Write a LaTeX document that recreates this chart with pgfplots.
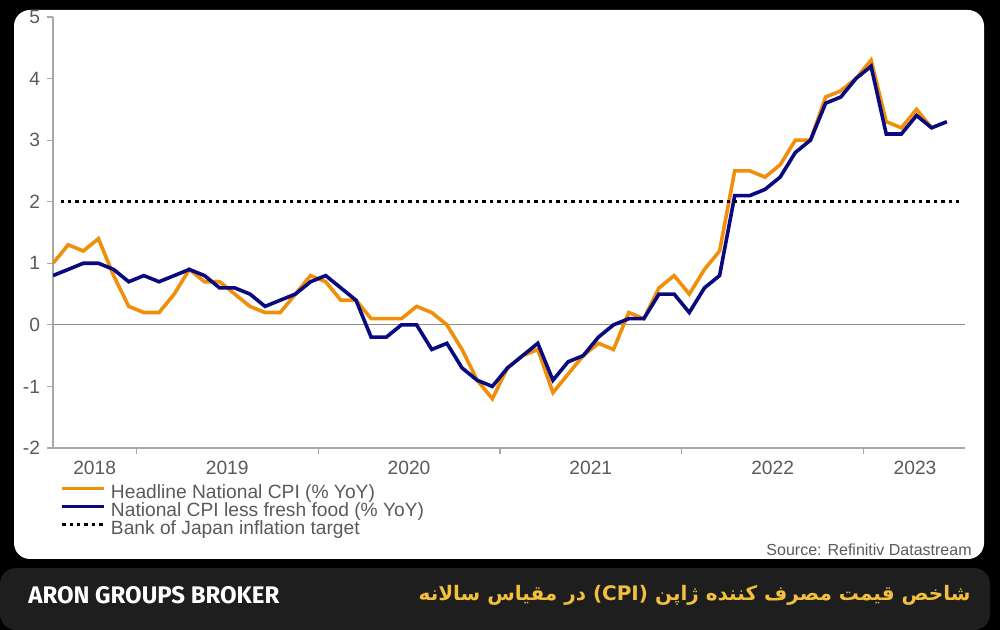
\documentclass[border=0pt]{standalone}
\usepackage{pgfplots}
\pgfplotsset{compat=1.18}
\usepackage{fontspec}
\setmainfont{Liberation Sans}
\newfontfamily\arabicfont[Script=Arabic]{DejaVu Sans}
\newfontfamily\brandfont{Fira Sans}
\TeXXeTstate=1
\definecolor{cpiorange}{HTML}{F0900A}
\definecolor{cpinavy}{HTML}{0A0A80}
\definecolor{axisgray}{HTML}{A8A8A8}
\definecolor{zerogray}{HTML}{8C8C8C}
\definecolor{labelgray}{HTML}{5A5A5A}
\definecolor{barbg}{HTML}{1E1E1E}
\definecolor{persianyellow}{HTML}{F2C03E}
\begin{document}
\begin{tikzpicture}
\begin{scope}[x=0.5pt,y=0.5pt]
\useasboundingbox (0,0) rectangle (1000,630);
\fill[black] (0,0) rectangle (1000,630);
\fill[barbg, rounded corners=8] (0,0) rectangle (990,62);
\fill[white, rounded corners=8] (14,71) rectangle (984,620);
\node[anchor=west, text=white, inner sep=0pt, font=\brandfont\bfseries\fontsize{12}{13}\selectfont] at (28,35) {ARON GROUPS BROKER};
\node[anchor=east, text=persianyellow, inner sep=0pt, font=\arabicfont\bfseries\fontsize{10}{12}\selectfont] at (971,35) {\beginR شاخص قیمت مصرف کننده ژاپن \beginL(CPI)\endL{} در مقیاس سالانه\endR};
\node[anchor=east, text=labelgray, inner sep=0pt, font=\fontsize{8}{9}\selectfont] at (972,80) {Source: Refinitiv Datastream};
\end{scope}
\begin{axis}[
  at={(26.5pt,91pt)}, anchor=south west,
  scale only axis, width=456pt, height=215.5pt,
  xmin=0, xmax=60.2, ymin=-2, ymax=5,
  axis x line=bottom, axis y line=left,
  axis line style={-, draw=axisgray, line width=0.6pt},
  xtick={2.75,11.5,23.5,35.5,47.5,56.9},
  xticklabels={2018,2019,2020,2021,2022,2023},
  minor xtick={5.5,17.5,29.5,41.5,53.5},
  ytick={-2,-1,0,1,2,3,4,5},
  yticklabels={-2,-1,0,1,2,3,4,5},
  tick align=outside, major tick length=3pt, minor tick length=3pt,
  tick style={draw=axisgray, line width=0.6pt},
  every major x tick/.append style={draw=none},
  ticklabel style={text=labelgray, font=\fontsize{9.6}{11}\selectfont},
  legend style={at={(axis description cs:0,0)}, anchor=north west, xshift=3.5pt, yshift=-18.5pt,
    draw=none, fill=none, inner sep=0pt, font=\fontsize{9.6}{11}\selectfont, text=labelgray,
    nodes={inner sep=0pt, text height=6.8pt, text depth=2.2pt}, column sep=2.5pt, row sep=0pt},
  legend cell align=left,
  legend image code/.code={\draw[#1] (0pt,3pt) -- (21pt,3pt);},
]
\addplot[zerogray, line width=0.5pt, forget plot] coordinates {(0,0) (60.2,0)};
\addplot[cpiorange, line width=1.8pt] coordinates {
(0,1.0) (1,1.3) (2,1.2) (3,1.4) (4,0.8) (5,0.3) (6,0.2) (7,0.2) (8,0.5) (9,0.9)
(10,0.7) (11,0.7) (12,0.5) (13,0.3) (14,0.2) (15,0.2) (16,0.5) (17,0.8) (18,0.7) (19,0.4)
(20,0.4) (21,0.1) (22,0.1) (23,0.1) (24,0.3) (25,0.2) (26,0.0) (27,-0.4) (28,-0.9) (29,-1.2)
(30,-0.7) (31,-0.5) (32,-0.4) (33,-1.1) (34,-0.8) (35,-0.5) (36,-0.3) (37,-0.4) (38,0.2) (39,0.1)
(40,0.6) (41,0.8) (42,0.5) (43,0.9) (44,1.2) (45,2.5) (46,2.5) (47,2.4) (48,2.6) (49,3.0)
(50,3.0) (51,3.7) (52,3.8) (53,4.0) (54,4.3) (55,3.3) (56,3.2) (57,3.5) (58,3.2)
};
\addlegendentry{Headline National CPI (\% YoY)}
\addplot[cpinavy, line width=1.8pt] coordinates {
(0,0.8) (1,0.9) (2,1.0) (3,1.0) (4,0.9) (5,0.7) (6,0.8) (7,0.7) (8,0.8) (9,0.9)
(10,0.8) (11,0.6) (12,0.6) (13,0.5) (14,0.3) (15,0.4) (16,0.5) (17,0.7) (18,0.8) (19,0.6)
(20,0.4) (21,-0.2) (22,-0.2) (23,0.0) (24,0.0) (25,-0.4) (26,-0.3) (27,-0.7) (28,-0.9) (29,-1.0)
(30,-0.7) (31,-0.5) (32,-0.3) (33,-0.9) (34,-0.6) (35,-0.5) (36,-0.2) (37,0.0) (38,0.1) (39,0.1)
(40,0.5) (41,0.5) (42,0.2) (43,0.6) (44,0.8) (45,2.1) (46,2.1) (47,2.2) (48,2.4) (49,2.8)
(50,3.0) (51,3.6) (52,3.7) (53,4.0) (54,4.2) (55,3.1) (56,3.1) (57,3.4) (58,3.2) (59,3.3)
};
\addlegendentry{National CPI less fresh food (\% YoY)}
\addplot[black, line width=1.6pt, dash pattern=on 1.7pt off 2pt] coordinates {(0.5,2) (60,2)};
\addlegendentry{Bank of Japan inflation target}
\end{axis}
\end{tikzpicture}
\end{document}
